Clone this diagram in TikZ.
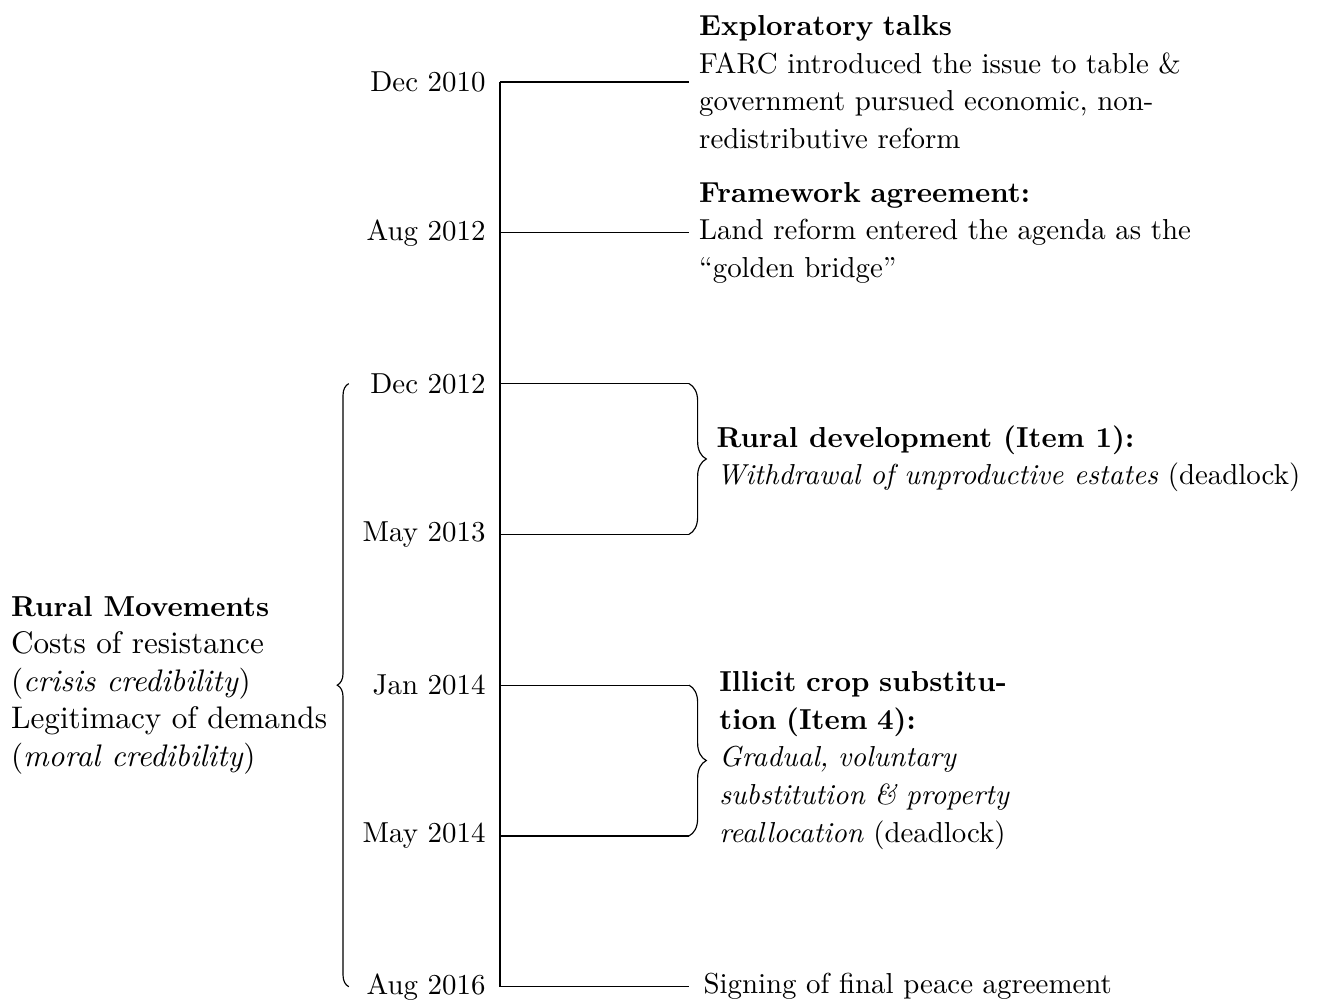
\documentclass[tikz,border=0pt]{standalone}
\usepackage{tikz}
\usetikzlibrary{decorations.pathreplacing,positioning,calc}

\tikzset{
  datelbl/.style={left=1.5pt, font=\fontsize{10}{13}\selectfont},
  evtext/.style={anchor=west, align=left, font=\fontsize{10}{13}\selectfont},
  mvtext/.style={anchor=east, align=left, font=\fontsize{10.8}{13}\selectfont},
  rbrace/.style={decorate, decoration={brace, amplitude=6pt}},
  lbrace/.style={decorate, decoration={brace, amplitude=4pt}},
}

\begin{document}
\begin{tikzpicture}[x=1cm, y=1.835cm]
\useasboundingbox (-6.085,-0.106) rectangle (10.016,6.544);

% Dates along the time line
\foreach \n/\yy/\dd in {1/6/Dec 2010, 2/5/Aug 2012, 3/4/Dec 2012, 4/3/May 2013,
  5/2/Jan 2014, 6/1/May 2014, 7/0/Aug 2016}
{
  \coordinate (t\n) at (0, \yy);
  \coordinate (e\n) at (2.3, \yy);
  \node[datelbl] (d\n) at (t\n) {\dd};
}

% Time line and ticks out to the events
\draw[thick] (t1) -- (t7);
\foreach \n in {1,...,7}
  \draw (t\n) -- (e\n);

% Braces for the two agenda items
\draw[rbrace] (e3) -- (e4);
\draw[rbrace] (e5) -- (e6);
\coordinate (b1) at ($(e3)!0.5!(e4) + (6pt,0)$);
\coordinate (b2) at ($(e5)!0.5!(e6) + (6pt,0)$);

% Brace for the rural movements
\coordinate (l3) at (-1.84, 4);
\coordinate (l7) at (-1.84, 0);
\draw[lbrace] (l7) -- (l3);
\coordinate (lt) at ($(l3)!0.5!(l7) + (-4pt,0)$);

% Events
\node[evtext, text width=6.3cm] (ev1) at (e1) {\textbf{Exploratory talks}\\
  FARC introduced the issue to table \& government pursued economic, non-redistributive reform};
\node[evtext, text width=6.3cm] (ev2) at (e2) {\textbf{Framework agreement:}\\
  Land reform entered the agenda as the “golden bridge”};
\node[evtext] (ev3) at (b1) {\textbf{Rural development (Item 1):}\\
  \textit{Withdrawal of unproductive estates} (deadlock)};
\node[evtext, text width=3.65cm, xshift=1pt] (ev4) at (b2) {\textbf{Illicit crop substitution (Item 4):}\\
  \textit{Gradual, voluntary \mbox{substitution} \& property reallocation} (deadlock)};
\node[evtext, xshift=1.5pt] (ev7) at (e7) {Signing of final peace agreement};

\node[mvtext] (rm) at (lt) {{\fontsize{10}{13}\selectfont\bfseries Rural Movements}\\
  Costs of resistance\\ (\textit{crisis credibility})\\ Legitimacy of demands\\ (\textit{moral credibility})};
\end{tikzpicture}
\end{document}
